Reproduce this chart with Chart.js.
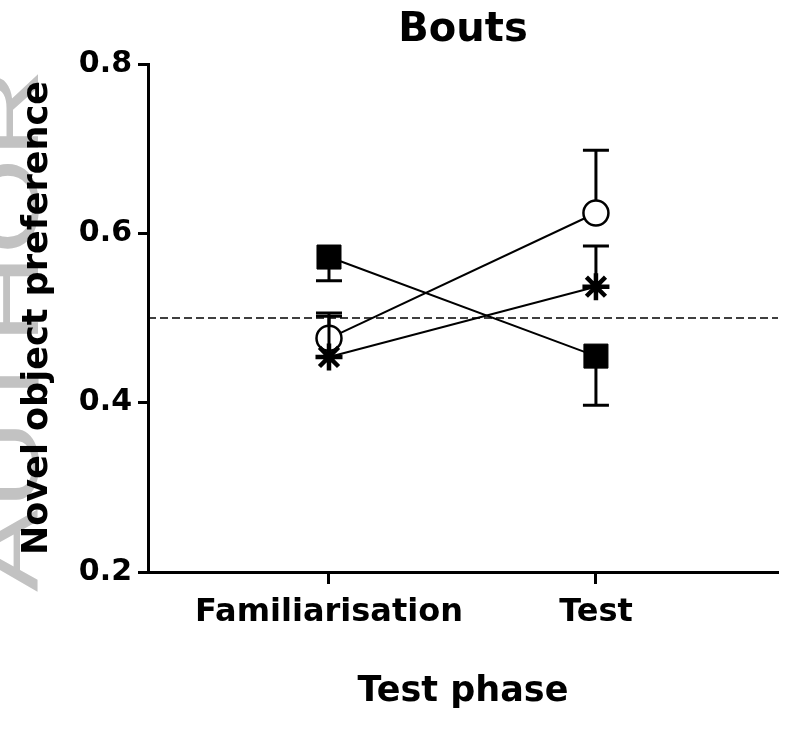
<!DOCTYPE html>
<html>
<head>
<meta charset="utf-8">
<script src="https://cdn.jsdelivr.net/npm/chart.js@4.4.1/dist/chart.umd.min.js"></script>
<style>
  html, body { margin: 0; padding: 0; background: #fff; }
  #wrap { width: 785px; height: 730px; }
</style>
</head>
<body>
<div id="wrap"><canvas id="c" width="785" height="730"></canvas></div>
<script>
// ---- data ----
const categories = ['Familiarisation', 'Test'];
const yTickValues = [0.2, 0.4, 0.6, 0.8];
const chanceLevel = 0.5;

const squareMeans = [0.572, 0.455];
const squareErrors = [0.028, 0.058];   // drawn downward

const starMeans = [0.454, 0.537];
const starErrors = [0.048, 0.048];     // drawn upward

const circleMeans = [0.476, 0.624];
const circleErrors = [0.030, 0.074];   // drawn upward

const chartTitle = 'Bouts';
const xTitle = 'Test phase';
const yTitle = 'Novel object preference';
const watermarkText = 'AUTHOR';

// ---- helpers ----
function toPoints(means) {
  return means.map((m, i) => ({ x: i + 1, y: m }));
}

const errorInfo = [
  { errors: squareErrors, dir: -1 },
  { errors: starErrors, dir: 1 },
  { errors: circleErrors, dir: 1 }
];

const errorBarPlugin = {
  id: 'errorBars',
  beforeDatasetDraw(chart, args) {
    const info = errorInfo[args.index];
    if (!info) return;
    const ds = chart.data.datasets[args.index];
    const xs = chart.scales.x, ys = chart.scales.y;
    const ctx = chart.ctx;
    ctx.save();
    ctx.strokeStyle = '#000';
    ctx.lineWidth = 3;
    ctx.lineCap = 'butt';
    ds.data.forEach((p, i) => {
      const px = xs.getPixelForValue(p.x);
      const py0 = ys.getPixelForValue(p.y);
      const py1 = ys.getPixelForValue(p.y + info.dir * info.errors[i]);
      ctx.beginPath();
      ctx.moveTo(px, py0);
      ctx.lineTo(px, py1);
      ctx.moveTo(px - 13, py1);
      ctx.lineTo(px + 13, py1);
      ctx.stroke();
    });
    ctx.restore();
  }
};

const refLinePlugin = {
  id: 'refLine',
  beforeDatasetsDraw(chart) {
    const { ctx, chartArea } = chart;
    const y = chart.scales.y.getPixelForValue(chanceLevel);
    ctx.save();
    ctx.strokeStyle = '#000';
    ctx.lineWidth = 1.5;
    ctx.setLineDash([8, 4]);
    ctx.beginPath();
    ctx.moveTo(chartArea.left, y);
    ctx.lineTo(chartArea.right, y);
    ctx.stroke();
    ctx.restore();
  }
};

// faint grey manuscript watermark, mostly cut off at the left edge
const watermarkPlugin = {
  id: 'watermark',
  beforeDraw(chart) {
    const ctx = chart.ctx;
    ctx.save();
    ctx.fillStyle = '#c2c2c2';
    ctx.font = '124px "Liberation Sans"';
    ctx.textBaseline = 'alphabetic';
    ctx.textAlign = 'left';
    ctx.translate(38, 592);
    ctx.rotate(-Math.PI / 2);
    ctx.scale(1, 0.7);
    ctx.fillText(watermarkText, 0, 0);
    ctx.restore();
  }
};

Chart.defaults.font.family = '"DejaVu Sans", sans-serif';
Chart.defaults.font.weight = 'bold';
Chart.defaults.color = '#000';

new Chart(document.getElementById('c'), {
  type: 'line',
  data: {
    datasets: [
      {
        label: 'Square',
        data: toPoints(squareMeans),
        borderColor: '#000',
        borderWidth: 2,
        pointStyle: 'rect',
        pointRadius: 17,
        pointBackgroundColor: '#000',
        pointBorderColor: '#000',
        pointBorderWidth: 1,
        tension: 0
      },
      {
        label: 'Asterisk',
        data: toPoints(starMeans),
        borderColor: '#000',
        borderWidth: 2,
        pointStyle: 'star',
        pointRadius: 13.5,
        pointBackgroundColor: '#000',
        pointBorderColor: '#000',
        pointBorderWidth: 4.5,
        tension: 0
      },
      {
        label: 'Circle',
        data: toPoints(circleMeans),
        borderColor: '#000',
        borderWidth: 2,
        pointStyle: 'circle',
        pointRadius: 12.5,
        pointBackgroundColor: '#fff',
        pointBorderColor: '#000',
        pointBorderWidth: 2.5,
        tension: 0
      }
    ]
  },
  options: {
    responsive: false,
    animation: false,
    devicePixelRatio: 1,
    layout: { autoPadding: false, padding: { left: 0, right: 7, top: 0, bottom: 17 } },
    plugins: {
      legend: { display: false },
      tooltip: { enabled: false },
      title: {
        display: true,
        text: chartTitle,
        fullSize: false,
        font: { size: 40, weight: 'bold' },
        color: '#000',
        padding: { top: 7, bottom: 9 }
      }
    },
    scales: {
      x: {
        type: 'linear',
        min: 0.322,
        max: 2.682,
        afterBuildTicks(scale) {
          scale.ticks = categories.map((c, i) => ({ value: i + 1 }));
        },
        afterFit(scale) {
          scale.height = 141;
          scale.paddingLeft = 0;
          scale.paddingRight = 0;
        },
        ticks: {
          callback: (v) => categories[v - 1] || '',
          font: { size: 32, weight: 'bold' },
          color: '#000',
          padding: 9,
          maxRotation: 0,
          autoSkip: false
        },
        grid: {
          display: true,
          drawOnChartArea: false,
          drawTicks: true,
          tickLength: 12,
          tickWidth: 3,
          tickColor: '#000'
        },
        border: { display: true, width: 3, color: '#000' },
        title: {
          display: true,
          text: xTitle,
          font: { size: 35, weight: 'bold' },
          color: '#000',
          padding: { top: 40, bottom: 0 }
        }
      },
      y: {
        type: 'linear',
        min: yTickValues[0],
        max: yTickValues[yTickValues.length - 1],
        afterBuildTicks(scale) {
          scale.ticks = yTickValues.map(v => ({ value: v }));
        },
        afterFit(scale) {
          scale.width = 148;
          scale.paddingTop = 0;
          scale.paddingBottom = 0;
        },
        ticks: {
          callback: (v) => Number(v).toFixed(1),
          font: { size: 30, weight: 'bold' },
          color: '#000',
          padding: 6
        },
        grid: {
          display: true,
          drawOnChartArea: false,
          drawTicks: true,
          tickLength: 10,
          tickWidth: 3,
          tickColor: '#000'
        },
        border: { display: true, width: 3, color: '#000' },
        title: {
          display: true,
          text: yTitle,
          font: { size: 35, weight: 'bold' },
          color: '#000',
          padding: { top: 17, bottom: 0 }
        }
      }
    }
  },
  plugins: [watermarkPlugin, refLinePlugin, errorBarPlugin]
});
</script>
</body>
</html>
